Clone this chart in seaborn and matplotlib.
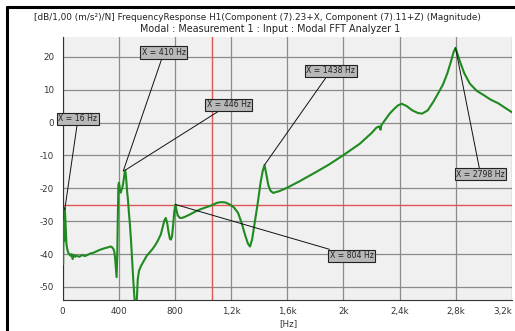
import numpy as np
import pandas as pd
import matplotlib
matplotlib.use("Agg")
import matplotlib.pyplot as plt
from matplotlib.lines import Line2D
import seaborn as sns

# ---- data ----
freq = [0, 4, 8, 12, 16, 20, 24, 28, 34, 40, 48, 56, 64, 72, 80, 90, 100, 120, 140,
        160, 180, 200, 220, 240, 260, 280, 300, 320, 340, 350, 360, 368, 374, 380,
        385, 390, 394, 398, 402, 406, 410, 415, 420, 426, 432, 438, 443, 446, 450,
        455, 460, 466, 472, 480, 488, 496, 504, 512, 518, 524, 530, 536, 545, 560,
        580, 600, 620, 640, 660, 680, 700, 715, 725, 735, 745, 755, 765, 772, 780,
        788, 796, 804, 812, 820, 835, 850, 870, 900, 940, 980, 1020, 1060, 1100,
        1130, 1160, 1190, 1220, 1250, 1275, 1300, 1320, 1335, 1350, 1370, 1390,
        1410, 1425, 1438, 1450, 1465, 1480, 1500, 1547, 1600, 1690, 1807, 1900,
        2000, 2115, 2200, 2234, 2252, 2258, 2264, 2270, 2300, 2329, 2360, 2388,
        2415, 2450, 2490, 2530, 2560, 2600, 2640, 2680, 2710, 2740, 2765, 2785,
        2798, 2812, 2830, 2860, 2900, 2950, 3000, 3050, 3100, 3150, 3200]
magnitude = [-30, -43, -31, -36, -26, -29, -33, -37, -38.5, -39.5, -40, -40.5, -40,
             -41.5, -40.2, -40.8, -40.5, -40.8, -40.3, -40.6, -40.2, -39.8, -39.6,
             -39.2, -38.8, -38.5, -38.2, -38.0, -37.7, -37.8, -38.3, -39, -41, -44.5,
             -47, -40, -28, -19, -18.3, -19.5, -21, -21.3, -20.5, -19.8, -18.5, -16.5,
             -15, -14.5, -15.5, -18, -21, -23.5, -27, -31, -36, -42, -48, -53, -57,
             -57, -53, -47.5, -45, -43.5, -42, -40.5, -39.5, -38.5, -37.3, -35.8,
             -34, -31.5, -29.8, -29, -30.5, -33.3, -35.4, -35.6, -34.5, -31, -27,
             -24.9, -26.8, -28.2, -29, -29, -28.7, -28.1, -27.2, -26.4, -25.8, -25.2,
             -24.4, -24.2, -24.3, -24.9, -25.8, -27.5, -30.5, -34.2, -36.8, -37.7,
             -35.5, -30, -24.5, -18.3, -14.8, -12.9, -15.5, -19, -20.7, -21.4, -20.8,
             -19.8, -17.8, -15.0, -12.7, -9.9, -6.5, -3.2, -1.6, -1.2, -1.3, -2.2,
             -0.8, 1.0, 2.7, 4.1, 5.2, 5.7, 5.0, 3.7, 2.9, 2.7, 3.7, 6.3, 9.3, 11.7,
             15.0, 18.5, 21.5, 22.7, 20.8, 18.5, 15.0, 11.8, 9.6, 8.3, 6.9, 5.9, 4.5,
             3.1]

cursor_x = 1061
cursor_y = -25.1

marker_labels = ["X = 16 Hz", "X = 410 Hz", "X = 446 Hz", "X = 1438 Hz", "X = 2798 Hz", "X = 804 Hz"]
marker_freq = [16, 432, 446, 1438, 2798, 804]
marker_val = [-26.5, -14.8, -14.5, -12.9, 22.7, -24.9]
label_pos_f = [110, 722, 1184, 1909, 2976, 2058]
label_pos_v = [1.1, 21.3, 5.4, 15.7, -15.7, -40.5]

xticks = [0, 400, 800, 1200, 1600, 2000, 2400, 2800, 3200]
xtick_labels = ["0", "400", "800", "1,2k", "1,6k", "2k", "2,4k", "2,8k", "3,2k"]
yticks = [20, 10, 0, -10, -20, -30, -40, -50]

title1 = ("[dB/1,00 (m/s²)/N] FrequencyResponse H1(Component (7).23+X, "
          "Component (7).11+Z) (Magnitude)")
title2 = "Modal : Measurement 1 : Input : Modal FFT Analyzer 1"

# ---- plot ----
sns.set_style("white")
plt.rcParams['font.family'] = ['DejaVu Sans']
plt.rcParams['axes.unicode_minus'] = False
FS = 6.3
TFS = 6.9
AFS = 5.6

W, H = 515, 331
fig = plt.figure(figsize=(W / 100, H / 100), dpi=100)
ax = fig.add_axes([62.5 / W, 1 - 299.5 / H, (512 - 62.5) / W, (299.5 - 37) / H])
ax.set_facecolor("#f0f0f0")

df = pd.DataFrame({"f": freq, "mag": magnitude})
sns.lineplot(data=df, x="f", y="mag", ax=ax, color="#1f8a1f", linewidth=1.5,
             sort=False, zorder=3)

ax.set_xlim(0, 3200)
ax.set_ylim(-53.8, 26)
ax.set_xticks(xticks)
ax.set_xticklabels(xtick_labels)
ax.set_yticks(yticks)
ax.grid(True, color="#8a8a8a", linewidth=0.9)
ax.set_axisbelow(True)
ax.set_xlabel("")
ax.set_ylabel("")
ax.tick_params(axis="both", labelsize=FS, colors="#333333", length=4, width=0.8,
               direction="out")
ax.tick_params(axis="x", pad=1.5)
ax.tick_params(axis="y", pad=2)
xt = ax.get_xticklabels()
xt[-1].set_horizontalalignment("right")
for s in ["top", "right"]:
    ax.spines[s].set_visible(False)
for s in ["left", "bottom"]:
    ax.spines[s].set_color("#333333")
    ax.spines[s].set_linewidth(0.8)

ax.axvline(cursor_x, color="#e05555", linewidth=1.0, zorder=2)
ax.axhline(cursor_y, color="#e05555", linewidth=1.0, zorder=2)

for lab, mf, mv, lf, lv in zip(marker_labels, marker_freq, marker_val, label_pos_f, label_pos_v):
    ax.annotate(lab, xy=(mf, mv), xytext=(lf, lv), textcoords="data",
                fontsize=AFS, ha="center", va="center", color="#222222",
                bbox=dict(boxstyle="square,pad=0.2", fc="#b8b8b8", ec="#222222", lw=0.8),
                arrowprops=dict(arrowstyle="-", color="#111111", lw=0.7,
                                shrinkA=0, shrinkB=0),
                annotation_clip=False, zorder=5)

fig.text(288 / W, 1 - 323.5 / H, "[Hz]", fontsize=FS, ha="center", va="center", color="#333333")
fig.text(257 / W, 1 - 17 / H, title1, fontsize=6.4, ha="center", va="center", color="#222222")
fig.text(270 / W, 1 - 28.5 / H, title2, fontsize=TFS, ha="center", va="center", color="#222222")

# black frame edges (left and top)
fig.add_artist(Line2D([6.5 / W, 6.5 / W], [0, 1 - 6.5 / H], color="black", linewidth=2.2,
                      transform=fig.transFigure))
fig.add_artist(Line2D([6.5 / W, 1], [1 - 6.5 / H, 1 - 6.5 / H], color="black", linewidth=2.2,
                      transform=fig.transFigure))

fig.savefig("out.png", dpi=100)
